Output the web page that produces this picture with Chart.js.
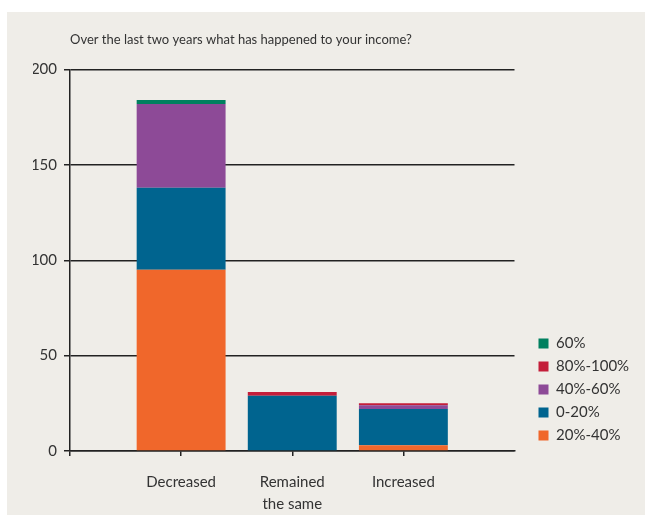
<!DOCTYPE html>
<html lang="en">

<head>
    <meta charset="UTF-8">
    <title>Income change</title>
    <script src="https://cdn.jsdelivr.net/npm/chart.js"></script>
    <style>
        body { margin: 0; background: #ffffff; overflow: hidden; }
        .panel { position: absolute; left: 7px; top: 12px; width: 638px; height: 503px; background: #efede8; }
        #income { position: absolute; left: 0; top: 0; }
    </style>
</head>

<body>
    <div class="panel"></div>
    <canvas id="income" width="645" height="515"></canvas>
    <script>
        // categories and stacked series (bottom to top)
        const categories = ['Decreased', ['Remained', 'the same'], 'Increased'];
        const seriesNames = ['20%-40%', '0-20%', '40%-60%', '80%-100%', '60%'];
        const seriesColors = ['#f0672b', '#00648f', '#8d4a97', '#c41e3a', '#00805f'];
        const pct20to40 = [95, 0, 3];
        const pct0to20 = [43, 29, 19];
        const pct40to60 = [44, 0, 2];
        const pct80to100 = [0, 2, 1];
        const pct60 = [2, 0, 0];
        const yTicks = [0, 50, 100, 150, 200];

        const seriesValues = [pct20to40, pct0to20, pct40to60, pct80to100, pct60];
        const textColor = '#333333';
        const lineColor = '#222222';
        const font = { family: 'Lato', size: 15 };

        // empty slots on both sides so the bars sit at 1..3 of 0..4
        const labels = [''].concat(categories, ['']);

        const datasets = seriesNames.map((name, i) => ({
            label: name,
            data: [null].concat(seriesValues[i], [null]),
            backgroundColor: seriesColors[i],
            borderWidth: 0,
            categoryPercentage: 0.8,
            barPercentage: 1.0
        }));

        const ctx = document.getElementById('income').getContext('2d');
        new Chart(ctx, {
            type: 'bar',
            data: { labels: labels, datasets: datasets },
            options: {
                responsive: false,
                animation: false,
                layout: { padding: { top: 20, left: 33, right: 15, bottom: 0 } },
                scales: {
                    x: {
                        stacked: true,
                        offset: false,
                        afterFit: s => { s.height = 64; },
                        grid: {
                            offset: false,
                            drawOnChartArea: false,
                            tickLength: 5,
                            lineWidth: 1.5,
                            color: c => (c.index === labels.length - 1 ? 'rgba(0,0,0,0)' : lineColor)
                        },
                        border: { color: lineColor, width: 1.5 },
                        ticks: { color: textColor, font: { family: 'Lato', size: 15, lineHeight: 1.47 }, padding: 15, maxRotation: 0, autoSkip: false }
                    },
                    y: {
                        stacked: true,
                        min: 0,
                        max: 200,
                        afterFit: s => { s.width = 37; },
                        afterBuildTicks: s => { s.ticks = yTicks.map(v => ({ value: v })); },
                        grid: { color: lineColor, lineWidth: 1.5, tickLength: 6 },
                        border: { color: lineColor, width: 1.5 },
                        ticks: { color: textColor, font: font, padding: 7 }
                    },
                    gap: {
                        position: 'right',
                        display: true,
                        grid: { display: false },
                        border: { display: false },
                        ticks: { display: false },
                        afterFit: s => { s.width = 16; }
                    }
                },
                plugins: {
                    title: {
                        display: true,
                        text: 'Over the last two years what has happened to your income?',
                        align: 'start',
                        fullSize: false,
                        color: textColor,
                        font: { family: 'Lato', size: 13, weight: 'normal' },
                        padding: { top: 12, bottom: 22 }
                    },
                    legend: {
                        position: 'right',
                        align: 'end',
                        fullSize: false,
                        reverse: true,
                        labels: { boxWidth: 10, boxHeight: 10, padding: 8, color: textColor, font: font }
                    },
                    tooltip: { enabled: false }
                }
            }
        });
    </script>
</body>

</html>
